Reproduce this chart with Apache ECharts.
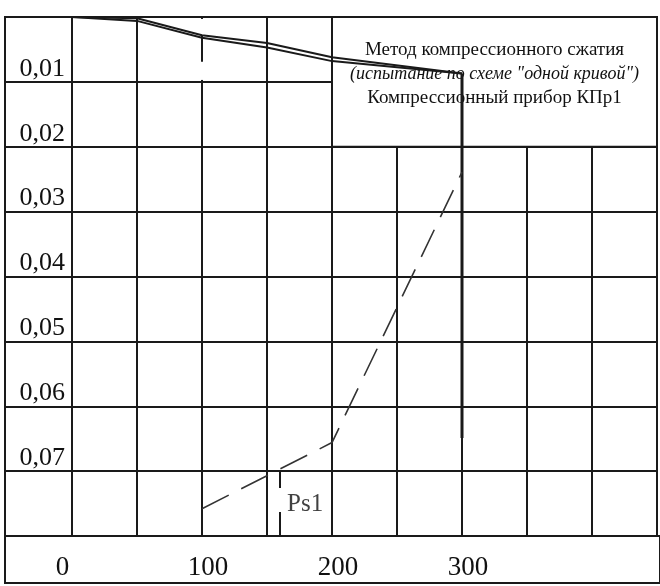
<!DOCTYPE html>
<html><head><meta charset="utf-8">
<script src="https://cdn.jsdelivr.net/npm/echarts@6/dist/echarts.min.js"></script>
<style>html,body{margin:0;padding:0;background:#fff}#c{width:660px;height:586px}</style>
</head><body><div id="c"></div>
<script>
const xTickValues = [0, 100, 200, 300];
const xTickLabels = ['0', '100', '200', '300'];
const yTickLabels = ['', '0,01', '0,02', '0,03', '0,04', '0,05', '0,06', '0,07', ''];
const upperX = [0, 50, 100, 150, 200, 300];
const upperY = [0, 0.0002, 0.0028, 0.0040, 0.0062, 0.0087];
const lowerX = [0, 50, 100, 150, 200, 300];
const lowerY = [0, 0.0006, 0.0032, 0.0047, 0.0068, 0.0087];
const dropX = [300, 300];
const dropY = [0.0087, 0.0649];
const tickX = [100, 100];
const tickY = [0.0028, 0.0069];
const dashedX = [100, 200, 300];
const dashedY = [0.0758, 0.0656, 0.0239];
const ps1Value = 160;
const ps1Y = [0.0701, 0.0726, '-', 0.0763, 0.08];
const ps1LabelY = 0.0751;
const ps1Label = 'Ps1';
const boxLines = ['Метод компрессионного сжатия', '(испытание по схеме "одной кривой")', 'Компрессионный прибор КПр1'];
const boxX = [200, 450];
const boxY = [0, 0.02];

const zip = (xs, ys) => xs.map((x, i) => [x, ys[i]]);
const LINE = '#1a1a1a';
const SERIF = '"Liberation Serif", "DejaVu Serif", serif';

const chart = echarts.init(document.getElementById('c'), null, {renderer: 'canvas'});
chart.setOption({
  animation: false,
  grid: [
    {left: 72, right: 2, top: 17, bottom: 50, show: true, borderColor: LINE, borderWidth: 2},
    {left: 5, width: 67, top: 17, bottom: 50, show: true, borderColor: LINE, borderWidth: 2},
    {left: 5, right: -10, top: 536, bottom: 3, show: true, borderColor: LINE, borderWidth: 2}
  ],
  xAxis: [
    {gridIndex: 0, type: 'value', min: 0, max: 450, interval: 50,
     axisLine: {show: false}, axisTick: {show: false},
     splitLine: {show: true, lineStyle: {color: LINE, width: 2}},
     axisLabel: {
       margin: 18, fontFamily: SERIF, fontSize: 27, color: '#111',
       formatter: v => {
         const i = xTickValues.indexOf(v);
         if (i < 0) return '';
         return i === 0 ? '{l|' + xTickLabels[i] + '}' : '{r|' + xTickLabels[i] + '}';
       },
       rich: {
         l: {fontFamily: SERIF, fontSize: 27, color: '#111', padding: [0, 19, 0, 0]},
         r: {fontFamily: SERIF, fontSize: 27, color: '#111', padding: [0, 0, 0, 12]}
       }
     }},
    {gridIndex: 1, type: 'value', min: 0, max: 1, show: false},
    {gridIndex: 2, type: 'value', min: 0, max: 1, show: false}
  ],
  yAxis: [
    {gridIndex: 0, type: 'value', inverse: true, min: 0, max: 0.08, interval: 0.01,
     axisLine: {show: false}, axisTick: {show: false},
     splitLine: {show: true, lineStyle: {color: LINE, width: 2}},
     axisLabel: {
       margin: 7, fontFamily: SERIF, fontSize: 26, color: '#111', verticalAlign: 'bottom',
       formatter: (v, i) => yTickLabels[i] || ''
     }},
    {gridIndex: 1, type: 'value', inverse: true, min: 0, max: 0.08, interval: 0.01,
     axisLine: {show: false}, axisTick: {show: false}, axisLabel: {show: false},
     splitLine: {show: true, lineStyle: {color: LINE, width: 2}}},
    {gridIndex: 2, type: 'value', min: 0, max: 1, show: false}
  ],
  series: [
    {type: 'line', data: [], z: 1, silent: true,
     markArea: {silent: true, data: [
       [{xAxis: boxX[0], yAxis: boxY[0],
         itemStyle: {color: '#fff', borderColor: LINE, borderWidth: 2},
         label: {show: true, position: 'insideTop', distance: 22,
           formatter: '{a|' + boxLines[0] + '}\n{b|' + boxLines[1] + '}\n{a|' + boxLines[2] + '}',
           rich: {
             a: {fontFamily: SERIF, fontSize: 19, lineHeight: 24, color: '#111', align: 'center'},
             b: {fontFamily: SERIF, fontSize: 18, lineHeight: 24, color: '#111', fontStyle: 'italic', align: 'center'}
           }}},
        {xAxis: boxX[1], yAxis: boxY[1]}],
       [{xAxis: 97, yAxis: 0.0003, itemStyle: {color: '#fff', borderWidth: 0}, label: {show: false}},
        {xAxis: 103, yAxis: 0.0097}]
     ]}},
    {type: 'line', z: 3, data: zip(upperX, upperY), symbol: 'none', lineStyle: {color: LINE, width: 2}},
    {type: 'line', z: 3, data: zip(lowerX, lowerY), symbol: 'none', lineStyle: {color: LINE, width: 2}},
    {type: 'line', z: 3, data: zip(dropX, dropY), symbol: 'none', lineStyle: {color: LINE, width: 3}},
    {type: 'line', z: 3, data: zip(tickX, tickY), symbol: 'none', lineStyle: {color: LINE, width: 2}},
    {type: 'line', z: 3, data: zip(dashedX, dashedY), symbol: 'none',
     lineStyle: {color: '#333', width: 1.6, type: [30, 14]}},
    {type: 'line', z: 3, data: ps1Y.map(y => [ps1Value, y]), symbol: 'none', connectNulls: false,
     lineStyle: {color: LINE, width: 2}},
    {type: 'scatter', z: 3, data: [[ps1Value, ps1LabelY]], symbolSize: 0,
     label: {show: true, position: 'right', distance: 7, formatter: ps1Label,
       fontFamily: SERIF, fontSize: 25, color: '#111'}}
  ]
});
</script></body></html>
